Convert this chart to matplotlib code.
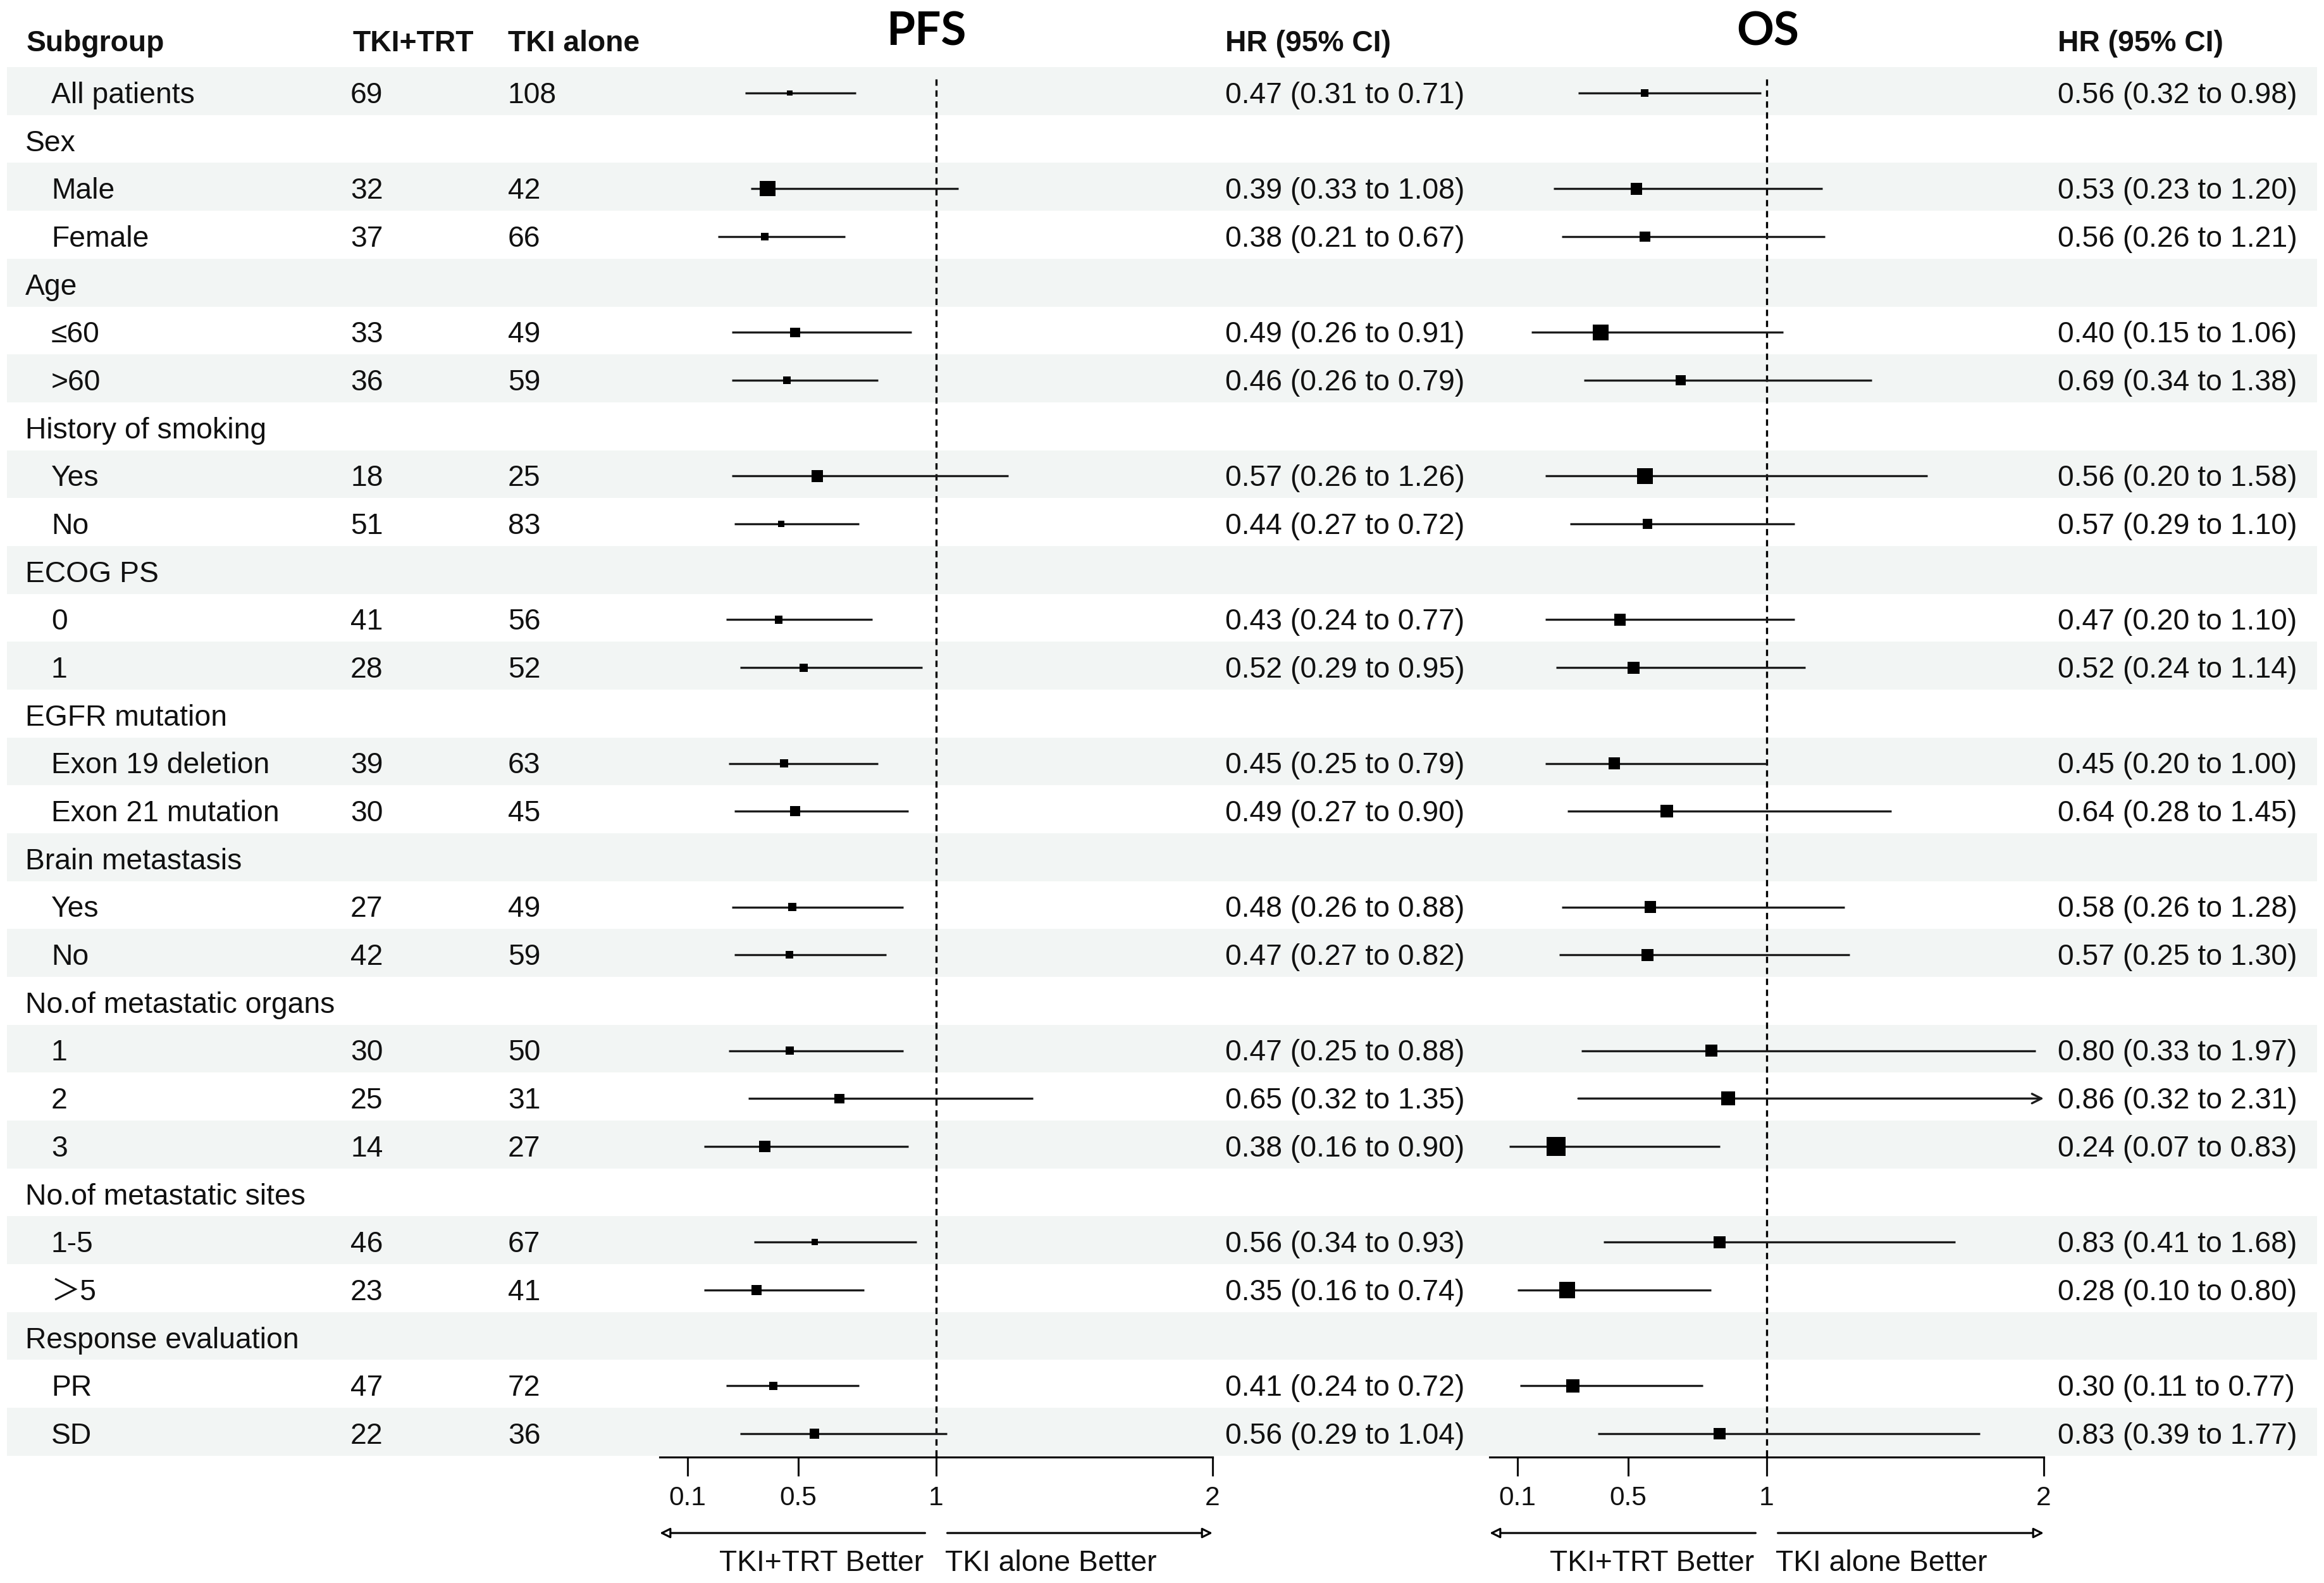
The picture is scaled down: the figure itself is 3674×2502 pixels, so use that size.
import numpy as np
import matplotlib
matplotlib.use("Agg")
import matplotlib.pyplot as plt

# ---------------- data ----------------
subgroups = ["All patients", "Sex", "Male", "Female", "Age", "≤60", ">60",
             "History of smoking", "Yes", "No", "ECOG PS", "0", "1",
             "EGFR mutation", "Exon 19 deletion", "Exon 21 mutation",
             "Brain metastasis", "Yes", "No", "No.of metastatic organs",
             "1", "2", "3", "No.of metastatic sites", "1-5", "＞5",
             "Response evaluation", "PR", "SD"]
n_trt = [69, None, 32, 37, None, 33, 36, None, 18, 51, None, 41, 28, None, 39, 30,
         None, 27, 42, None, 30, 25, 14, None, 46, 23, None, 47, 22]
n_alone = [108, None, 42, 66, None, 49, 59, None, 25, 83, None, 56, 52, None, 63, 45,
           None, 49, 59, None, 50, 31, 27, None, 67, 41, None, 72, 36]

pfs_hr = [0.47, 0.39, 0.38, 0.49, 0.46, 0.57, 0.44, 0.43, 0.52, 0.45, 0.49,
          0.48, 0.47, 0.47, 0.65, 0.38, 0.56, 0.35, 0.41, 0.56]
pfs_lo = [0.31, 0.33, 0.21, 0.26, 0.26, 0.26, 0.27, 0.24, 0.29, 0.25, 0.27,
          0.26, 0.27, 0.25, 0.32, 0.16, 0.34, 0.16, 0.24, 0.29]
pfs_hi = [0.71, 1.08, 0.67, 0.91, 0.79, 1.26, 0.72, 0.77, 0.95, 0.79, 0.90,
          0.88, 0.82, 0.88, 1.35, 0.90, 0.93, 0.74, 0.72, 1.04]
pfs_box = [8, 22, 11, 14, 11, 17, 9, 11, 12, 12, 14, 12, 11, 12, 14, 17, 9, 15, 12, 14]

os_hr = [0.56, 0.53, 0.56, 0.40, 0.69, 0.56, 0.57, 0.47, 0.52, 0.45, 0.64,
         0.58, 0.57, 0.80, 0.86, 0.24, 0.83, 0.28, 0.30, 0.83]
os_lo = [0.32, 0.23, 0.26, 0.15, 0.34, 0.20, 0.29, 0.20, 0.24, 0.20, 0.28,
         0.26, 0.25, 0.33, 0.32, 0.07, 0.41, 0.10, 0.11, 0.39]
os_hi = [0.98, 1.20, 1.21, 1.06, 1.38, 1.58, 1.10, 1.10, 1.14, 1.00, 1.45,
         1.28, 1.30, 1.97, 2.31, 0.83, 1.68, 0.80, 0.77, 1.77]
os_box = [11, 17, 15, 23, 15, 23, 14, 17, 17, 17, 18, 17, 17, 18, 20, 27, 17, 23, 19, 17]

x_ticks = [0.1, 0.5, 1, 2]
x_ticklabels = ["0.1", "0.5", "1", "2"]

# ---------------- layout ----------------
W, H, DPI = 3674, 2502, 300
ROW0, ROWH = 147.0, 75.68
FS = 11.1
BAND = "#F2F5F4"
INK = "#111111"
SANS = "Liberation Sans"
FALLBACK = ["Liberation Sans", "Noto Sans CJK SC", "DejaVu Sans"]

plt.rcParams["font.family"] = SANS


def r_of(p):
    return (p - ROW0) / ROWH


fig = plt.figure(figsize=(W / DPI, H / DPI), dpi=DPI)
bg = fig.add_axes([0, 0, 1, 1])
bg.set_xlim(0, W)
bg.set_ylim(r_of(H), r_of(0))
bg.axis("off")

data_rows = [i for i, n in enumerate(n_trt) if n is not None]

# bands
for i in range(len(subgroups)):
    if i % 2 == 0:
        bg.axhspan(i - 0.54, i + 0.46, xmin=11 / W, xmax=3663 / W, color=BAND, lw=0, zorder=0)

# headers
hy = r_of(81)
bg.text(42, hy, "Subgroup", fontsize=FS, weight="bold", va="baseline", color=INK)
bg.text(557, hy, "TKI+TRT", fontsize=FS, weight="bold", va="baseline", color=INK)
bg.text(803, hy, "TKI alone", fontsize=FS, weight="bold", va="baseline", color=INK)
bg.text(1937, hy, "HR (95% CI)", fontsize=FS, weight="bold", va="baseline", color=INK)
bg.text(3253, hy, "HR (95% CI)", fontsize=FS, weight="bold", va="baseline", color=INK)
bg.text(1464, r_of(72), "PFS", fontsize=17.5, weight="bold", family=["Lato", "DejaVu Sans"],
        ha="center", va="baseline", color="black")
bg.text(2795, r_of(72), "OS", fontsize=17.5, weight="bold", family=["Lato", "DejaVu Sans"],
        ha="center", va="baseline", color="black")

# row texts
BOFF = 0.21
for i, lab in enumerate(subgroups):
    is_head = n_trt[i] is None and i != 0
    x = 40 if is_head else 81
    fam = FALLBACK if any(ord(c) > 0x2FFF for c in lab) else SANS
    bg.text(x, i + BOFF, lab, fontsize=FS, va="baseline", color=INK, family=fam)
    if n_trt[i] is not None:
        bg.text(554, i + BOFF, str(n_trt[i]), fontsize=FS, va="baseline", color=INK)
        bg.text(803, i + BOFF, str(n_alone[i]), fontsize=FS, va="baseline", color=INK)

for k, i in enumerate(data_rows):
    bg.text(1937, i + BOFF, f"{pfs_hr[k]:.2f} ({pfs_lo[k]:.2f} to {pfs_hi[k]:.2f})",
            fontsize=FS, va="baseline", color=INK)
    bg.text(3253, i + BOFF, f"{os_hr[k]:.2f} ({os_lo[k]:.2f} to {os_hi[k]:.2f})",
            fontsize=FS, va="baseline", color=INK)


def forest(left_px, right_px, hr, lo, hi, box):
    ax = fig.add_axes([left_px / W, 1 - 2303 / H, (right_px - left_px) / W, (2303 - 100) / H])
    ax.set_xlim(0, 2)
    ax.set_ylim(r_of(2303), r_of(100))
    ax.patch.set_alpha(0)
    for s in ("top", "left", "right"):
        ax.spines[s].set_visible(False)
    ax.spines["bottom"].set_linewidth(0.75)
    ax.set_yticks([])
    ax.set_xticks(x_ticks)
    ax.set_xticklabels(x_ticklabels)
    ax.tick_params(axis="x", direction="out", length=7.2, width=0.75, pad=3.6,
                   labelsize=10.2, colors=INK)
    xmax = ax.get_xlim()[1]
    ax.vlines(1, r_of(125), r_of(2303), colors="black", linewidth=0.8,
              linestyles=(0, (3, 2.2)), zorder=1)
    rows = np.array(data_rows, dtype=float)
    for k, r in enumerate(rows):
        if hi[k] > xmax:
            ax.annotate("", xy=(xmax, r), xytext=(lo[k], r),
                        arrowprops=dict(arrowstyle="->", lw=0.8, color="#1c1c1c",
                                        shrinkA=0, shrinkB=0, mutation_scale=9),
                        annotation_clip=False, zorder=2)
        else:
            ax.hlines(r, lo[k], hi[k], colors="#1c1c1c", linewidth=0.8, zorder=2)
    sizes = (np.array(box) * 1.1 * 72.0 / DPI) ** 2
    ax.scatter(hr, rows, marker="s", s=sizes, color="black", linewidths=0, zorder=3)

    ya = r_of(2423)
    ap = dict(arrowstyle="-|>", lw=0.75, fc="white", ec="black",
              shrinkA=0, shrinkB=0, mutation_scale=8)
    ax.annotate("", xy=(0.0, ya), xytext=(0.96, ya), arrowprops=ap, annotation_clip=False)
    ax.annotate("", xy=(2.0, ya), xytext=(1.04, ya), arrowprops=ap, annotation_clip=False)
    yl = r_of(2483)
    ax.text(0.955, yl, "TKI+TRT Better", ha="right", va="baseline", fontsize=FS,
            color=INK, clip_on=False)
    ax.text(1.032, yl, "TKI alone Better", ha="left", va="baseline", fontsize=FS,
            color=INK, clip_on=False)
    return ax


forest(1043, 1917, pfs_hr, pfs_lo, pfs_hi, pfs_box)
forest(2355, 3231, os_hr, os_lo, os_hi, os_box)

fig.savefig("out.png", dpi=DPI, facecolor="white")
